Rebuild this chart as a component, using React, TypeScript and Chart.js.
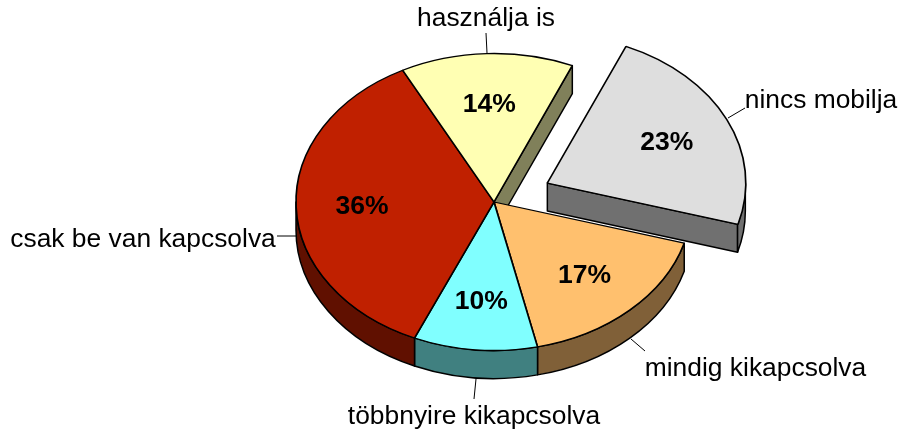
import React, { useEffect, useRef } from "react";
import { Chart, registerables } from "chart.js";

Chart.register(...registerables);

const categories = ["nincs mobilja", "mindig kikapcsolva", "többnyire kikapcsolva", "csak be van kapcsolva", "használja is"];
const shares = [23, 17, 10.1, 35.8, 14.1];
const topColors = ["#DEDEDE", "#FFC06E", "#80FFFF", "#C02000", "#FFFFB3"];
const sideColors = ["#707070", "#806038", "#408080", "#601000", "#80805A"];
const explode = [59, 0, 0, 0, 0];

// Layout of the drawing (screen pixels)
const CENTER_X = 494;
const CENTER_Y = 202;
const RADIUS = 198;
const SQUASH = 0.75;
const DEPTH = 28;
const LABEL_FONT = '26.4px "Liberation Sans", Arial, sans-serif';
const PCT_FONT = 'bold 26.5px "Liberation Sans", Arial, sans-serif';
const labelAnchors = [
  { x: 821, y: 100.5, line: [728, 118, 745, 108] },
  { x: 755.5, y: 368.5, line: [631, 339, 645, 351] },
  { x: 474, y: 416.5, line: [476, 379, 474, 399] },
  { x: 143, y: 239.5, line: [296, 236, 277, 236] },
  { x: 486, y: 18.5, line: [487, 53, 486, 33] },
];

const TAU = Math.PI * 2;

const pie3d = {
  id: "pie3d",
  beforeDatasetDraw(chart: any) {
    const ctx = chart.ctx;
    const meta = chart.getDatasetMeta(0);
    const arcs = meta.data;
    const px = (chart.chartArea.left + chart.chartArea.right) / 2;
    const py = (chart.chartArea.top + chart.chartArea.bottom) / 2;

    ctx.save();
    ctx.strokeStyle = "#000";
    ctx.lineWidth = 1.5;
    ctx.lineJoin = "round";

    arcs.forEach((arc: any, i: number) => {
      const a1 = ((arc.startAngle % TAU) + TAU) % TAU;
      const a2 = a1 + (arc.endAngle - arc.startAngle);
      const mid = (a1 + a2) / 2;
      const cx = CENTER_X + Math.cos(mid) * explode[i];
      const cy = CENTER_Y + Math.sin(mid) * explode[i] * SQUASH;
      ctx.fillStyle = sideColors[i];

      // cut face on the clockwise end of the slice
      const endVisible = Math.cos(a2) > 0 && (i === 0 || i === 4);
      if (endVisible) {
        const ex = cx + Math.cos(a2) * RADIUS;
        const ey = cy + Math.sin(a2) * RADIUS * SQUASH;
        ctx.beginPath();
        ctx.moveTo(cx, cy);
        ctx.lineTo(ex, ey);
        ctx.lineTo(ex, ey + DEPTH);
        ctx.lineTo(cx, cy + DEPTH);
        ctx.closePath();
        ctx.fill();
        ctx.stroke();
      }

      // outer rim, only the lower half of the ellipse can be seen
      for (const base of [0, TAU]) {
        const from = Math.max(a1, base);
        const to = Math.min(a2, base + Math.PI);
        if (to > from) {
          ctx.beginPath();
          ctx.ellipse(cx, cy, RADIUS, RADIUS * SQUASH, 0, from, to);
          ctx.ellipse(cx, cy + DEPTH, RADIUS, RADIUS * SQUASH, 0, to, from, true);
          ctx.closePath();
          ctx.fill();
          ctx.stroke();
        }
      }
    });
    ctx.restore();

    // the top faces are drawn by Chart.js through this transform
    ctx.save();
    ctx.translate(CENTER_X, CENTER_Y);
    ctx.scale(1, SQUASH);
    ctx.translate(-px, -py);
  },
  afterDatasetDraw(chart: any) {
    chart.ctx.restore();
  },
  afterDraw(chart: any) {
    const ctx = chart.ctx;
    const arcs = chart.getDatasetMeta(0).data;
    ctx.save();
    ctx.textAlign = "center";
    ctx.textBaseline = "middle";
    ctx.fillStyle = "#000";
    arcs.forEach((arc: any, i: number) => {
      const mid = (arc.startAngle + arc.endAngle) / 2;
      const r = (RADIUS * 2) / 3 + explode[i];
      ctx.font = PCT_FONT;
      ctx.fillText(
        `${Math.round(shares[i])}%`,
        CENTER_X + Math.cos(mid) * r,
        CENTER_Y + Math.sin(mid) * r * SQUASH + 1.5
      );
      const a = labelAnchors[i];
      ctx.font = LABEL_FONT;
      ctx.fillText(categories[i], a.x, a.y);
      ctx.strokeStyle = "#000";
      ctx.lineWidth = 1;
      ctx.beginPath();
      ctx.moveTo(a.line[0], a.line[1]);
      ctx.lineTo(a.line[2], a.line[3]);
      ctx.stroke();
    });
    ctx.restore();
  },
};

export default function App() {
  const ref = useRef<HTMLCanvasElement | null>(null);
  useEffect(() => {
    document.body.style.margin = "0";
    const chart = new Chart(ref.current as HTMLCanvasElement, {
      type: "pie",
      data: {
        labels: categories,
        datasets: [
          {
            data: shares,
            backgroundColor: topColors,
            borderColor: "#000",
            borderWidth: 1.7,
            offset: explode.map((v) => v * 4),
            clip: false,
          } as any,
        ],
      },
      options: {
        animation: false,
        responsive: false,
        rotation: 23.3,
        radius: RADIUS,
        layout: { padding: 0 },
        events: [],
        plugins: { legend: { display: false }, tooltip: { enabled: false } },
      } as any,
      plugins: [pie3d],
    });
    return () => chart.destroy();
  }, []);
  return (
    <div style={{ width: 899, height: 432 }}>
      <canvas ref={ref} width={899} height={432} style={{ display: "block" }} />
    </div>
  );
}
